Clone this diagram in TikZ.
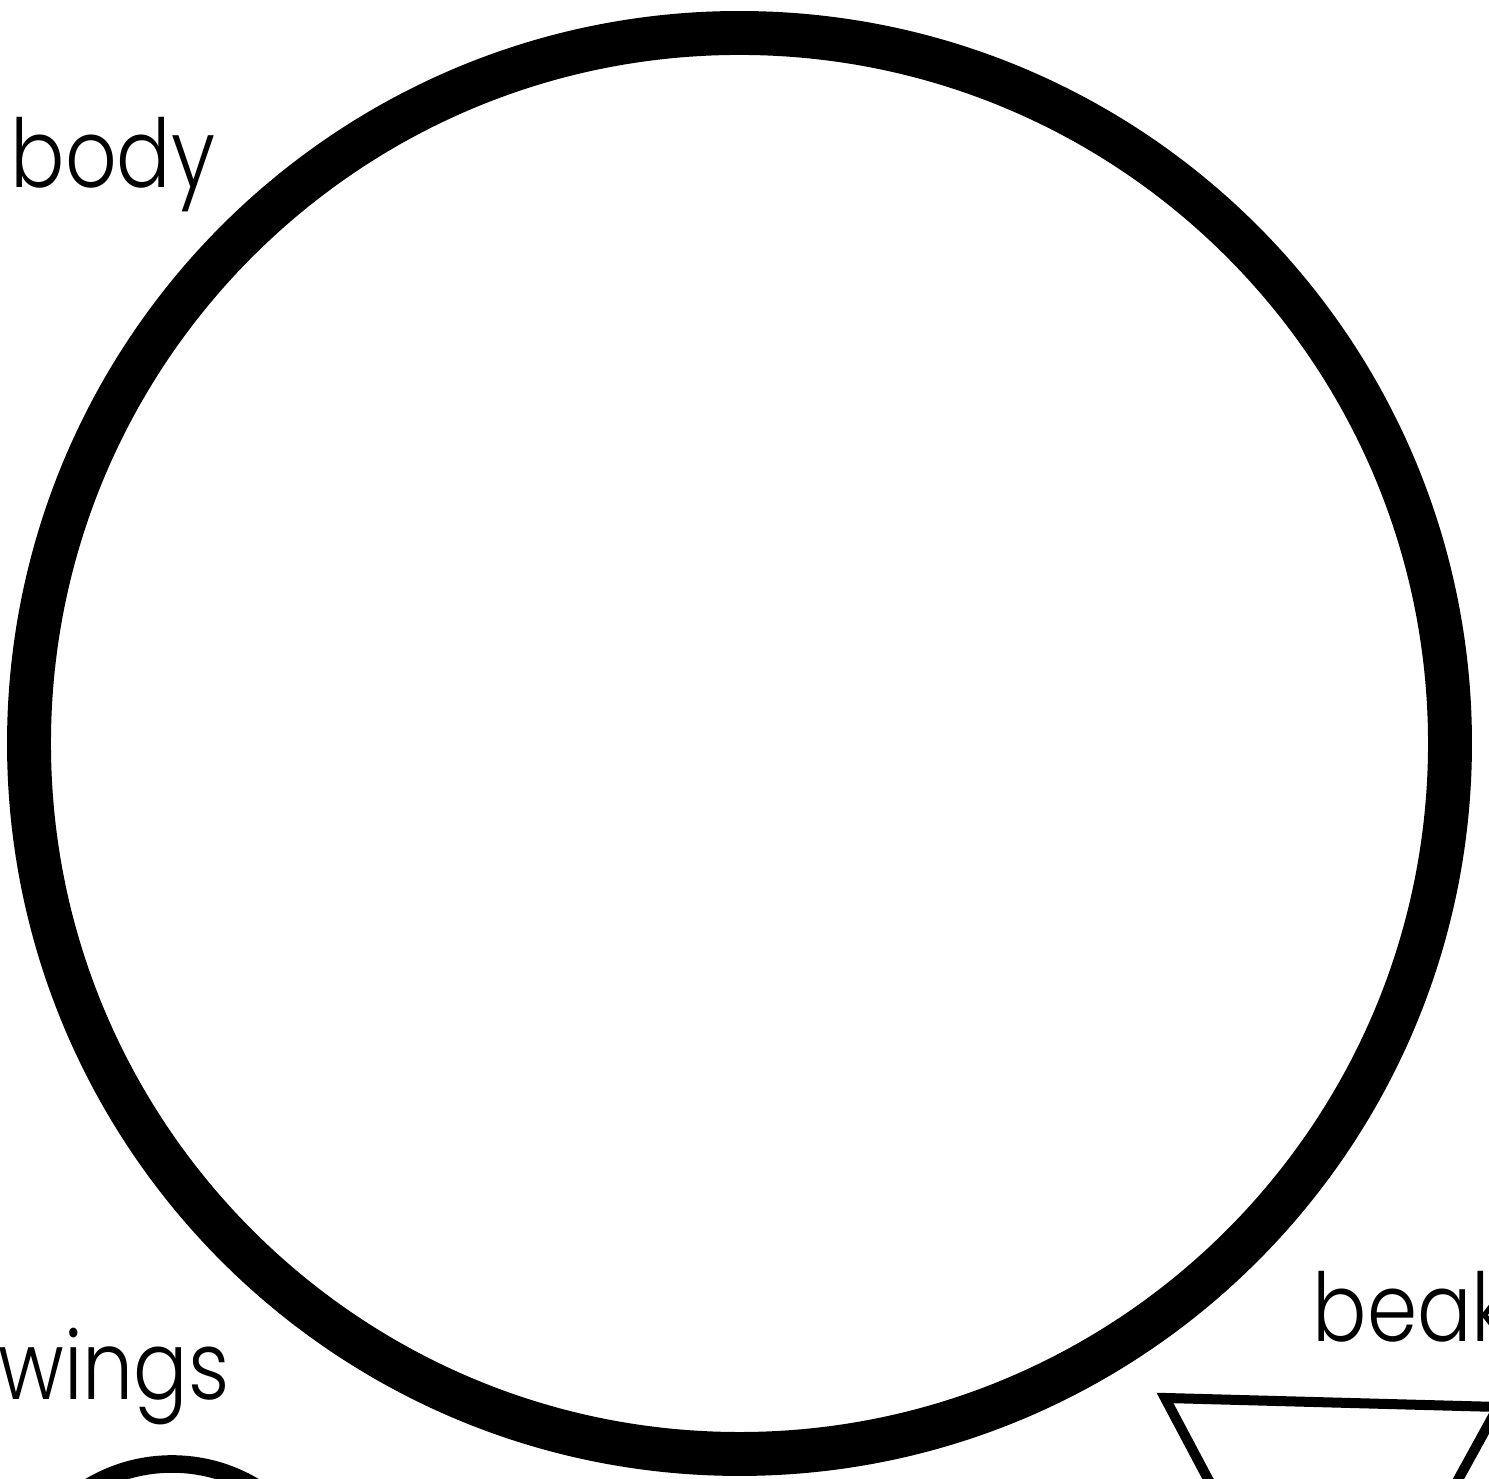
\documentclass[tikz,border=0pt]{standalone}
\usepackage{fontspec}
\setmainfont{Poppins}[UprightFont=* Light, FakeStretch=0.85]
\usepackage{tikz}

\begin{document}
\begin{tikzpicture}[
    partlabel/.style={anchor=base west, inner sep=0pt, font=\fontsize{27}{30}\selectfont}
  ]
  \useasboundingbox (0,0) rectangle (14.89,14.79);
  \clip (0,0) rectangle (14.89,14.79);
  % 胴体（大きな円）
  \draw[line width=12.5pt] (7.395,7.355) circle (7.105);
  % 翼（下の弧）
  \draw[line width=5pt] (1.72,-1.46) circle (1.61);
  % くちばし（逆三角形）
  \draw[line width=2.85pt, miter limit=20]
    (11.65,0.81) -- (14.98,0.72) -- (13.31,-2.32) -- cycle;
  % ラベル
  \node[partlabel] (bodylabel) at (0.10,12.91) {body};
  \node[partlabel] (wingslabel) at (-0.02,0.79) {wings};
  \node[partlabel] (beaklabel) at (13.12,1.37) {beak};
\end{tikzpicture}
\end{document}
